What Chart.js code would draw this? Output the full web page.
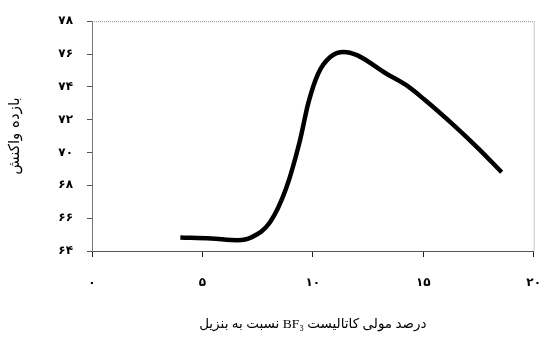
<!DOCTYPE html>
<html lang="fa">
<head>
<meta charset="UTF-8">
<title>BF3 chart</title>
<script src="https://cdn.jsdelivr.net/npm/chart.js@4.4.0/dist/chart.umd.min.js"></script>
<style>
  body { margin: 0; background: #fff; }
  #wrap { width: 560px; height: 337px; }
</style>
</head>
<body>
<div id="wrap"><canvas id="chart" dir="rtl"></canvas></div>
<script>
// catalyst mol% (x) and reaction yield (y)
const molPercent = [4.0, 5.4, 6.6, 7.2, 8.06, 8.8, 9.4, 9.8, 10.25, 10.8, 11.4, 12.0, 13.3, 14.2, 15.05, 16.4, 17.5, 18.55];
const yieldPct   = [64.82, 64.76, 64.66, 64.82, 65.75, 67.85, 70.64, 73.04, 74.83, 75.83, 76.13, 75.93, 74.83, 74.13, 73.23, 71.64, 70.24, 68.8];

const xTicks = [0, 5, 10, 15, 20];
const yTicks = [64, 66, 68, 70, 72, 74, 76, 78];

const xTitle = 'درصد مولی کاتالیست BF₃ نسبت به بنزیل';
const yTitle = 'بازده واکنش';

const faDigits = '۰۱۲۳۴۵۶۷۸۹';
function toFa(n) {
  return String(n).replace(/[0-9]/g, d => faDigits[d]);
}

// persian text needs right-to-left shaping order
const rtlPlugin = {
  id: 'rtl',
  beforeDraw(chart) { chart.ctx.direction = 'rtl'; }
};

// light dotted frame on top and right of the plot
const framePlugin = {
  id: 'frame',
  afterDraw(chart) {
    const a = chart.chartArea;
    const ctx = chart.ctx;
    ctx.save();
    ctx.strokeStyle = '#8a8a8a';
    ctx.lineWidth = 1;
    ctx.setLineDash([1, 1]);
    ctx.beginPath();
    ctx.moveTo(a.left, a.top + 0.5);
    ctx.lineTo(a.right + 0.5, a.top + 0.5);
    ctx.lineTo(a.right + 0.5, a.bottom);
    ctx.stroke();
    ctx.restore();
  }
};

const tickFont = { family: 'DejaVu Sans', size: 12, weight: 'bold' };
const titleFont = { family: "'Liberation Serif', 'DejaVu Sans'", size: 13.5 };

new Chart(document.getElementById('chart'), {
  type: 'line',
  data: {
    datasets: [{
      data: molPercent.map((x, i) => ({ x: x, y: yieldPct[i] })),
      borderColor: '#000',
      borderWidth: 4.5,
      pointRadius: 0,
      cubicInterpolationMode: 'monotone',
      fill: false
    }]
  },
  options: {
    responsive: true,
    maintainAspectRatio: false,
    animation: false,
    layout: { padding: { top: 17, right: 10, left: 0, bottom: 0 } },
    plugins: { legend: { display: false }, tooltip: { enabled: false } },
    scales: {
      x: {
        type: 'linear',
        min: 0, max: 20,
        afterBuildTicks: s => { s.ticks = xTicks.map(v => ({ value: v })); },
        afterFit: s => { s.height = 86; },
        grid: { drawOnChartArea: false, tickLength: 6, color: '#222' },
        border: { color: '#555', width: 1 },
        ticks: { color: '#000', font: tickFont, padding: 19, maxRotation: 0, callback: v => toFa(v) },
        title: { display: true, text: xTitle, color: '#000', font: titleFont, padding: { top: 10 } }
      },
      y: {
        min: 64, max: 78,
        afterBuildTicks: s => { s.ticks = yTicks.map(v => ({ value: v })); },
        afterFit: s => { s.width = 92; },
        grid: { drawOnChartArea: false, tickLength: 5, color: '#555' },
        border: { color: '#777', width: 1, dash: [1, 1] },
        ticks: { color: '#000', font: tickFont, padding: 14, callback: v => toFa(v) },
        title: { display: true, text: yTitle, color: '#000', font: { family: 'DejaVu Sans', size: 15 }, padding: { bottom: 0, top: 6 } }
      }
    }
  },
  plugins: [rtlPlugin, framePlugin]
});
</script>
</body>
</html>
